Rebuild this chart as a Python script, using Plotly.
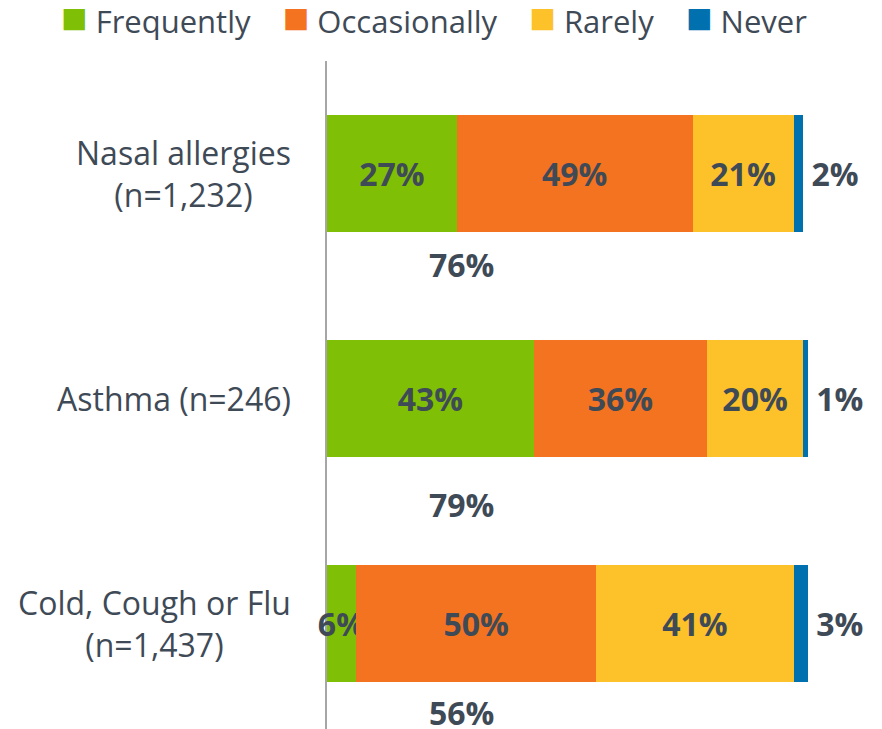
import plotly.graph_objects as go

categories = ['Nasal allergies<br>(n=1,232)', 'Asthma (n=246)', 'Cold, Cough or Flu<br>(n=1,437)']
series = ['Frequently', 'Occasionally', 'Rarely', 'Never']
frequently = [27, 43, 6]
occasionally = [49, 36, 50]
rarely = [21, 20, 41]
never = [2, 1, 3]
totals = [76, 79, 56]
colors = ['#7FBF06', '#F47321', '#FDC12A', '#0070AF']

TXT = '#3F4A57'
FONT = 'Open Sans'

fig = go.Figure()
for name, vals, col in zip(series, [frequently, occasionally, rarely, never], colors):
    outside = name == 'Never'
    fig.add_trace(go.Bar(
        y=categories, x=vals, name=name, orientation='h',
        marker=dict(color=col, line=dict(width=0)),
        texttemplate='\u2009%{x}%' if outside else '%{x}%',
        textposition='outside' if outside else 'inside',
        insidetextanchor='middle',
        textangle=0,
        constraintext='none',
        textfont=dict(family=FONT, size=32, color=TXT, weight='bold'),
        cliponaxis=False,
        showlegend=False,
    ))

# category labels, centred lines, right edge near axis
for cat in categories:
    fig.add_annotation(x=0, xref='paper', y=cat, yref='y', text=cat,
                       xanchor='right', xshift=-34, align='center', showarrow=False,
                       font=dict(family=FONT, size=32, color=TXT))

# Frequently + Occasionally totals under each bar
for cat, t, dy in zip(categories, totals, [-91, -106, -89]):
    fig.add_annotation(x=28, y=cat, text=f'{t}%', showarrow=False, yshift=dy,
                       font=dict(family=FONT, size=32, color=TXT, weight='bold'))

# legend row
legend_txt = '&nbsp;&nbsp;&nbsp;&nbsp;'.join(
    f'<span style="color:{c};font-size:44px">■</span>&nbsp;{s}' for s, c in zip(series, colors))
fig.add_annotation(x=-0.482, xref='paper', y=1.0, yref='paper', yanchor='bottom', yshift=13,
                   xanchor='left', text=legend_txt, showarrow=False,
                   font=dict(family=FONT, size=31, color=TXT))

fig.update_layout(
    barmode='stack',
    bargap=0.484,
    width=874, height=721,
    margin=dict(l=319, r=0, t=53, b=0),
    plot_bgcolor='white', paper_bgcolor='white',
    xaxis=dict(range=[0, 115.4], visible=False),
    yaxis=dict(range=[2.469, -0.5], showticklabels=False, showgrid=False, zeroline=False,
               showline=True, linecolor='#A6A6A6', linewidth=2, ticks='',
               layer='below traces'),
    font=dict(family=FONT, color=TXT),
)

fig.write_html("out.html")
